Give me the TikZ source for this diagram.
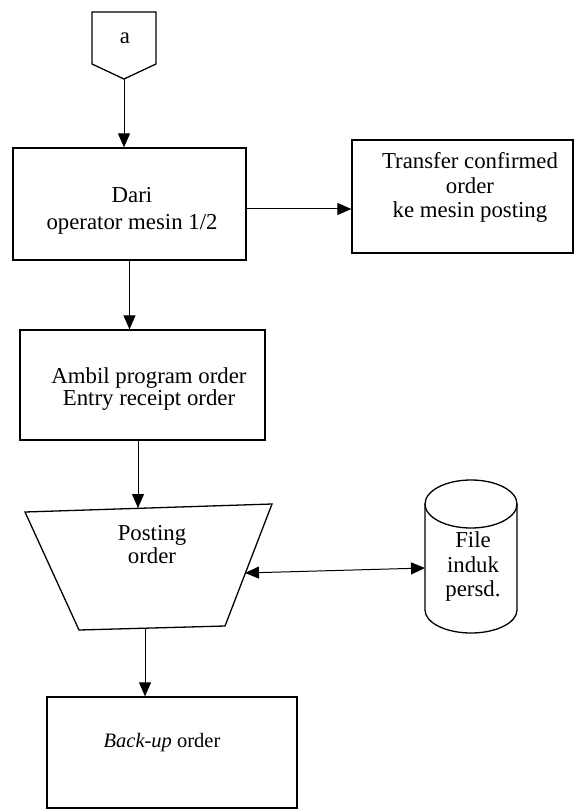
\documentclass[tikz,border=0pt]{standalone}
\usepackage{fontspec}
\setmainfont{Liberation Serif}
\usetikzlibrary{arrows.meta}

\begin{document}
\begin{tikzpicture}[x=1pt, y=-1pt,
    kotak/.style={draw, line width=1.3pt, inner sep=0pt},
    teks/.style={align=center, inner sep=0pt, font=\fontsize{22.8}{24.5}\selectfont},
    panah/.style={-{Triangle[length=14pt,width=12pt]}, line width=1pt},
    panahdua/.style={{Triangle[length=14pt,width=12pt]}-{Triangle[length=14pt,width=12pt]}, line width=1pt}]
    \useasboundingbox (0,0) rectangle (574,810);

    % konektor halaman a
    \draw[line width=1.3pt] (92,12) -- (156,12) -- (156,64) -- (124,79) -- (92,64) -- cycle;
    \coordinate (ujunga) at (124,79);
    \node[teks] (a) at (125,38) {a};

    % proses operator
    \node[kotak, minimum width=233, minimum height=112] (dari) at (129.5,204) {};
    \node[teks] (daritxt) at (132,211) {Dari\\[2.5pt]operator mesin 1/2};

    \node[kotak, minimum width=221, minimum height=113] (transfer) at (462.5,196.5) {};
    \node[teks] (transfertxt) at (470,187.5) {Transfer confirmed\\order\\ke mesin posting};

    \node[kotak, minimum width=245, minimum height=110] (ambil) at (142.5,385) {};
    \node[teks, font=\fontsize{22.8}{18.5}\selectfont] (ambiltxt) at (149,389) {Ambil program order\\Entry receipt order};

    % posting (trapesium)
    \coordinate (tka) at (25,512);
    \coordinate (tkn) at (272,504);
    \coordinate (bkn) at (225,626);
    \coordinate (bki) at (79,630);
    \draw[line width=1.3pt] (tka) -- (tkn) -- (bkn) -- (bki) -- cycle;
    \coordinate (atas) at (138,508);
    \coordinate (sisi) at (245,573);
    \coordinate (bawah) at (145,628);
    \node[teks, font=\fontsize{22.8}{23}\selectfont] (postingtxt) at (152,545) {Posting\\order};

    % file induk (tabung)
    \draw[line width=1.3pt] (425,504) -- (425,610)
        arc[start angle=180, end angle=360, x radius=46pt, y radius=23pt] -- (517,504);
    \draw[line width=1.3pt] (471,504) ellipse [x radius=46pt, y radius=24pt];
    \coordinate (tabung) at (425,568);
    \node[teks] (filetxt) at (473,567) {File\\induk\\persd.};

    % backup
    \node[kotak, minimum width=250, minimum height=111] (backup) at (172,752.5) {};
    \node[teks, font=\fontsize{20.5}{22}\selectfont] (backuptxt) at (162,743) {\textit{Back-up} order};

    % panah
    \draw[panah] (ujunga) -- (ujunga |- dari.north);
    \draw[panah] ([yshift=-5pt]dari.east) -- ([yshift=-5pt]dari.east -| transfer.west);
    \draw[panah] (dari.south) -- (dari.south |- ambil.north);
    \draw[panah] (atas |- ambil.south) -- (atas);
    \draw[panahdua] (sisi) -- (tabung);
    \draw[panah] (bawah) -- (bawah |- backup.north);
\end{tikzpicture}
\end{document}
